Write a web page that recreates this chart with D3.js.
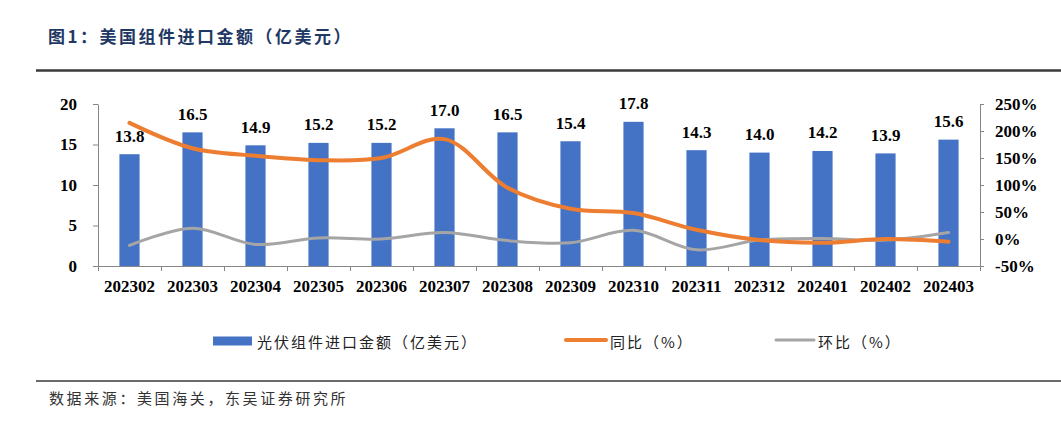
<!DOCTYPE html>
<html>
<head>
<meta charset="utf-8">
<script src="https://cdn.jsdelivr.net/npm/d3@7"></script>
<style>
  html, body { margin: 0; padding: 0; background: #fff; }
  svg { display: block; }
</style>
</head>
<body>
<svg id="chart" width="1061" height="425"></svg>
<script>
// ---- data ----
const categories = ["202302","202303","202304","202305","202306","202307","202308","202309","202310","202311","202312","202401","202402","202403"];
const importValues = [13.8, 16.5, 14.9, 15.2, 15.2, 17.0, 16.5, 15.4, 17.8, 14.3, 14.0, 14.2, 13.9, 15.6];
const yoyValues = [215, 168, 154, 146, 150, 185, 95, 56, 48, 17, -2, -7, 0, -5];
const momValues = [-12, 20, -10, 2, 0, 12, -3, -7, 16, -20, -2, 1, -2, 12];
const leftTicks = [0, 5, 10, 15, 20];
const rightTicks = [-50, 0, 50, 100, 150, 200, 250];
const seriesNames = ["光伏组件进口金额（亿美元）", "同比（%）", "环比（%）"];
const titleText = "图1：美国组件进口金额（亿美元）";
const sourceText = "数据来源：美国海关，东吴证券研究所";

// ---- layout ----
const svg = d3.select("#chart");
const plot = { left: 98, right: 980, top: 104, bottom: 266 };
const colors = { bar: "#4472C4", yoy: "#ED7D31", mom: "#A5A5A5", axis: "#868686", title: "#1F3864", text: "#000" };
const serif = "'Liberation Serif', 'Times New Roman', serif";
const cjk = "'Noto Sans CJK SC', 'Noto Sans', sans-serif";

const x = d3.scaleBand().domain(categories).range([plot.left, plot.right]).padding(0);
const xi = d3.scaleLinear().domain([0, categories.length]).range([plot.left, plot.right]);
const yL = d3.scaleLinear().domain([0, 20]).range([plot.bottom, plot.top]);
const yR = d3.scaleLinear().domain([-50, 250]).range([plot.bottom, plot.top]);
const barW = x.bandwidth() * 0.32;

// title
svg.append("text")
  .attr("x", 48).attr("y", 35)
  .attr("dominant-baseline", "central")
  .attr("font-family", cjk).attr("font-weight", 700)
  .attr("font-size", 17).attr("letter-spacing", 2.5)
  .attr("fill", colors.title)
  .text(titleText);

// rules
svg.append("line").attr("x1", 36).attr("x2", 1061).attr("y1", 70.5).attr("y2", 70.5)
  .attr("stroke", "#3a3a3a").attr("stroke-width", 2.5);
svg.append("line").attr("x1", 36).attr("x2", 1061).attr("y1", 381).attr("y2", 381)
  .attr("stroke", "#3a3a3a").attr("stroke-width", 1.5);

// bars
svg.append("g").selectAll("rect").data(importValues).join("rect")
  .attr("x", (d, i) => x(categories[i]) + (x.bandwidth() - barW) / 2)
  .attr("y", d => yL(d))
  .attr("width", barW)
  .attr("height", d => yL(0) - yL(d))
  .attr("fill", colors.bar);

// bar labels
svg.append("g").selectAll("text").data(importValues).join("text")
  .attr("x", (d, i) => x(categories[i]) + x.bandwidth() / 2)
  .attr("y", d => yL(d) - 12.5)
  .attr("text-anchor", "middle")
  .attr("font-family", serif).attr("font-weight", 700).attr("font-size", 17)
  .attr("fill", colors.text)
  .text(d => d.toFixed(1));

// lines
const lineGen = d3.line()
  .x((d, i) => x(categories[i]) + x.bandwidth() / 2)
  .y(d => yR(d))
  .curve(d3.curveCatmullRom.alpha(0.5));

svg.append("path").datum(momValues)
  .attr("d", lineGen).attr("fill", "none")
  .attr("stroke", colors.mom).attr("stroke-width", 3).attr("stroke-linecap", "round");
svg.append("path").datum(yoyValues)
  .attr("d", lineGen).attr("fill", "none")
  .attr("stroke", colors.yoy).attr("stroke-width", 4).attr("stroke-linecap", "round");

// axes
function styleAxis(g) {
  g.selectAll(".domain").attr("stroke", colors.axis);
  g.selectAll(".tick line").attr("stroke", colors.axis);
  g.selectAll("text").attr("font-family", serif).attr("font-weight", 700)
    .attr("font-size", 17).attr("fill", colors.text);
}

const gL = svg.append("g").attr("transform", `translate(${plot.left},0)`)
  .call(d3.axisLeft(yL).tickValues(leftTicks).tickSize(5).tickPadding(16).tickSizeOuter(0));
styleAxis(gL);

const gR = svg.append("g").attr("transform", `translate(${plot.right},0)`)
  .call(d3.axisRight(yR).tickValues(rightTicks).tickSize(4).tickPadding(11).tickSizeOuter(0)
    .tickFormat(d => d + "%"));
styleAxis(gR);

// x axis: ticks at category boundaries
const gXt = svg.append("g").attr("transform", `translate(0,${plot.bottom})`)
  .call(d3.axisBottom(xi).tickValues(d3.range(0, categories.length + 1)).tickSize(5).tickSizeOuter(0).tickFormat(""));
styleAxis(gXt);

const gX = svg.append("g").attr("transform", `translate(0,${plot.bottom})`)
  .call(d3.axisBottom(x).tickSize(0).tickPadding(14));
gX.select(".domain").remove();
styleAxis(gX);

// legend
const legY = 341;
const leg = svg.append("g");
leg.append("rect").attr("x", 213).attr("y", legY - 4.5).attr("width", 39).attr("height", 9).attr("fill", colors.bar);
leg.append("line").attr("x1", 566).attr("x2", 606).attr("y1", legY - 1).attr("y2", legY - 1)
  .attr("stroke", colors.yoy).attr("stroke-width", 4).attr("stroke-linecap", "round");
leg.append("line").attr("x1", 776).attr("x2", 814).attr("y1", legY - 1).attr("y2", legY - 1)
  .attr("stroke", colors.mom).attr("stroke-width", 3).attr("stroke-linecap", "round");
const legX = [257, 610, 818];
leg.selectAll("text").data(seriesNames).join("text")
  .attr("x", (d, i) => legX[i]).attr("y", legY)
  .attr("dominant-baseline", "central")
  .attr("font-family", cjk).attr("font-size", 15).attr("letter-spacing", 2)
  .attr("fill", "#222")
  .text(d => d);

// source
svg.append("text")
  .attr("x", 49).attr("y", 397)
  .attr("dominant-baseline", "central")
  .attr("font-family", cjk).attr("font-size", 15).attr("letter-spacing", 2.6)
  .attr("fill", "#333")
  .text(sourceText);
</script>
</body>
</html>
